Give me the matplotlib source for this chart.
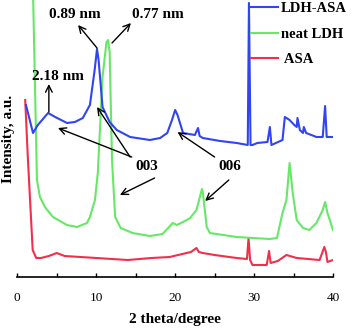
import matplotlib
matplotlib.use("Agg")
import matplotlib.pyplot as plt
from matplotlib.lines import Line2D

plt.rcParams['font.family'] = ['Liberation Serif', 'DejaVu Serif']

# LDH-ASA (blue)
ldh_asa_x = [1.1, 1.99, 2.6, 3.9, 4.8, 6.3, 7.3, 8.3, 9.2, 9.8, 10.1, 10.3, 10.8, 11.7,
             12.6, 14.3, 16.8, 18.1, 19.0, 19.6, 20.0, 20.3, 21.0, 22.5, 22.9, 23.1, 23.5,
             25.7, 27.8, 29.2, 29.35, 29.55, 29.8, 30.4, 31.7, 32.0, 32.2, 33.6, 33.9,
             34.5, 35.1, 35.4, 35.5, 35.8, 36.2, 36.3, 36.6, 37.9, 38.7, 39.0, 39.2, 40.0]
ldh_asa_y = [172, 144, 152, 164, 160, 154, 155, 159, 172, 207, 228, 217, 170, 155,
             147, 140, 137, 139, 144, 157, 167, 162, 144, 142, 149, 141, 139,
             136, 134, 132, 274, 132, 132, 134, 135, 150, 132, 137, 160,
             157, 152, 150, 159, 147, 144, 150, 144, 140, 140, 171, 140, 140]

# neat LDH (green)
neat_ldh_x = [1.9, 2.49, 2.87, 3.5, 4.52, 6.29, 7.56, 8.82, 9.2, 9.84, 10.2, 10.8, 11.3,
              11.5, 11.7, 12.0, 12.4, 13.1, 14.6, 16.8, 18.4, 19.7, 20.2, 21.0, 21.9,
              22.7, 23.4, 23.5, 24.0, 24.4, 27.8, 32.0, 32.9, 33.6, 34.1, 34.5, 34.9,
              35.4, 36.2, 37.0, 37.9, 38.7, 39.0, 39.3, 40.0]
neat_ldh_y = [320, 97, 80, 70, 60, 52, 50, 54, 60, 77, 104, 200, 235,
              237, 225, 117, 60, 49, 44, 41, 43, 54, 52, 55, 59,
              67, 88, 85, 50, 44, 40, 38, 39, 64, 77, 114, 84,
              57, 49, 47, 54, 67, 75, 64, 47]

# ASA (red)
asa_x = [1.0, 1.35, 1.95, 2.4, 3.0, 4.0, 5.0, 6.0, 8.0, 10.0, 14.0, 17.0, 19.3, 22.0,
         22.7, 23.0, 23.5, 25.0, 27.8, 29.1, 29.3, 29.5, 29.8, 31.6, 31.9, 32.1, 33.0,
         34.1, 35.4, 38.3, 38.9, 39.1, 39.3, 40.0]
asa_y = [177, 117, 27, 19, 19, 21, 24, 21, 20, 19, 17, 19, 20, 25,
         29, 25, 24, 22, 19, 18, 39, 17, 12, 12, 26, 14, 16,
         22, 19, 17, 30, 25, 15, 17]

labels = ["LDH-ASA", "neat LDH", " ASA"]
colors = ["#3045f0", "#66e866", "#f0304a"]

fig = plt.figure(figsize=(3.54, 3.29), dpi=100)
ax = fig.add_axes([17.3 / 354, 52 / 329, 315.7 / 354, 277 / 329])

ax.plot(asa_x, asa_y, color=colors[2], lw=1.5)
ax.plot(neat_ldh_x, neat_ldh_y, color=colors[1], lw=1.5)
ax.plot(ldh_asa_x, ldh_asa_y, color=colors[0], lw=1.5)

ax.set_xlim(0, 40)
ax.set_ylim(0, 277)
for side in ["left", "top", "right"]:
    ax.spines[side].set_visible(False)
ax.spines["bottom"].set_linewidth(1.2)
ax.set_yticks([])
ax.set_xticks([0, 10, 20, 30, 40])
ax.set_xticks([5, 15, 25, 35], minor=True)
ax.tick_params(axis='x', which='both', direction='in', length=3, width=1, labelsize=9.5, pad=11)

ax.set_xlabel("2 theta/degree", fontsize=11, fontweight='bold')
ax.xaxis.set_label_coords(0.5, -0.13)
ax.set_ylabel("Intensity, a.u.", fontsize=11, fontweight='bold')
ax.yaxis.set_label_coords(-0.008, 0.498)

txt = dict(fontsize=11, fontweight='bold', ha='center', va='center')
arrow = dict(arrowstyle='->', color='black', lw=1.0, shrinkA=0, shrinkB=0, mutation_scale=12)

ax.text(7.3, 262, "0.89 nm", **txt)
ax.annotate("", xy=(7.7, 252), xytext=(10.1, 229), arrowprops=arrow)
ax.text(17.8, 262, "0.77 nm", **txt)
ax.annotate("", xy=(14.4, 254), xytext=(12.0, 234), arrowprops=arrow)
ax.text(5.15, 200, "2.18 nm", **txt)
ax.annotate("", xy=(4.0, 193), xytext=(4.0, 165), arrowprops=arrow)

ax.text(16.4, 111, "003", **txt)
ax.annotate("", xy=(5.15, 149), xytext=(14.5, 120), arrowprops=arrow)
ax.annotate("", xy=(10.1, 170), xytext=(14.3, 120), arrowprops=arrow)
ax.annotate("", xy=(13.0, 82), xytext=(17.4, 99), arrowprops=arrow)

ax.text(26.9, 111, "006", **txt)
ax.annotate("", xy=(20.3, 145), xytext=(25.0, 120), arrowprops=arrow)
ax.annotate("", xy=(23.8, 76), xytext=(26.8, 97), arrowprops=arrow)

handles = [Line2D([], [], color=c, lw=1.5) for c in colors]
leg = ax.legend(handles, labels, loc='upper left', bbox_to_anchor=(251 / 354, 1.0 - 2 / 329),
                bbox_transform=fig.transFigure, frameon=False, borderpad=0.0,
                borderaxespad=0.0, handlelength=1.85, handletextpad=0.2,
                labelspacing=0.85, prop={'size': 10.5, 'weight': 'bold'})

fig.savefig("out.png", dpi=100)
